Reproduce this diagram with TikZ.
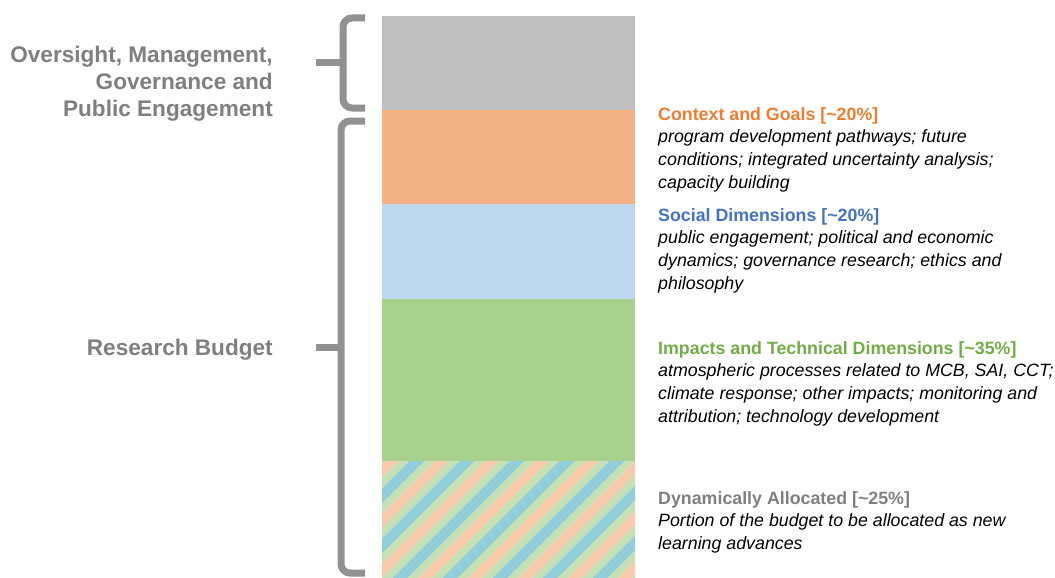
\documentclass[tikz,border=0pt]{standalone}
\usepackage{fontspec}
\setmainfont{Liberation Sans}
\definecolor{cgray}{HTML}{BFBFBF}
\definecolor{corange}{HTML}{F4B183}
\definecolor{cblue}{HTML}{BDD7EE}
\definecolor{cgreen}{HTML}{A9D18E}
\definecolor{horange}{HTML}{F8CBAD}
\definecolor{hgreen}{HTML}{C5E0B4}
\definecolor{hblue}{HTML}{92CDDC}
\definecolor{torange}{HTML}{ED7D31}
\definecolor{tblue}{HTML}{4472C4}
\definecolor{tgreen}{HTML}{70AD47}
\definecolor{tgray}{HTML}{7F7F7F}
\definecolor{bracegray}{HTML}{919191}
\begin{document}
\begin{tikzpicture}[x=1pt,y=-1pt,
  seg/.style={fill=#1,draw=none},
  brace/.style={draw=bracegray,line width=7pt,rounded corners=9pt},
  tip/.style={draw=bracegray,line width=7pt},
  leftlab/.style={anchor=east,align=right,inner sep=0pt,text=tgray,font=\fontsize{22.6}{27}\selectfont\bfseries},
  desc/.style={anchor=north west,align=left,inner sep=0pt,font=\fontsize{17.8}{22.7}\selectfont},
]
\useasboundingbox (0,0) rectangle (1055,578);
% bars
\fill[seg=cgray] (382,16) rectangle (635,110);
\fill[seg=corange] (382,110) rectangle (635,204);
\fill[seg=cblue] (382,204) rectangle (635,299);
\fill[seg=cgreen] (382,299) rectangle (635,461);
\begin{scope}
  \clip (382,461) rectangle (635,578);
  \foreach \i in {0,...,10} {
    \pgfmathsetmacro{\xa}{146+\i*50}
    \fill[horange] (\xa,600) -- ++(14,0) -- ++(200,-200) -- ++(-14,0) -- cycle;
    \fill[hgreen] (\xa+14,600) -- ++(10.5,0) -- ++(200,-200) -- ++(-10.5,0) -- cycle;
    \fill[hblue] (\xa+24.5,600) -- ++(15,0) -- ++(200,-200) -- ++(-15,0) -- cycle;
    \fill[hgreen] (\xa+39.5,600) -- ++(10.5,0) -- ++(200,-200) -- ++(-10.5,0) -- cycle;
  }
\end{scope}
% braces
\coordinate (b1t) at (365,18);
\coordinate (b1b) at (365,108);
\coordinate (b1m) at (343,63);
\coordinate (b1p) at (316,63);
\draw[brace] (b1t) -- (343,18) -- (343,108) -- (b1b);
\draw[tip] (b1p) -- (b1m);
\coordinate (b2t) at (365,121);
\coordinate (b2b) at (365,573);
\coordinate (b2m) at (341,347);
\coordinate (b2p) at (316,347);
\draw[brace] (b2t) -- (341,121) -- (341,573) -- (b2b);
\draw[tip] (b2p) -- (b2m);
% left labels
\node[leftlab] (oversight) at (273,84) {Oversight, Management,\\Governance and\\Public Engagement};
\node[leftlab] (research) at (273,350) {Research Budget};
% descriptions
\node[desc] (context) at (658,107) {\textcolor{torange}{\bfseries Context and Goals [\textasciitilde 20\%]}\\\itshape program development pathways; future\\\itshape conditions; integrated uncertainty analysis;\\\itshape capacity building};
\node[desc] (social) at (658,208) {\textcolor{tblue}{\bfseries Social Dimensions [\textasciitilde 20\%]}\\\itshape public engagement; political and economic\\\itshape dynamics; governance research; ethics and\\\itshape philosophy};
\node[desc] (impacts) at (658,341) {\textcolor{tgreen}{\bfseries Impacts and Technical Dimensions [\textasciitilde 35\%]}\\\itshape atmospheric processes related to MCB, SAI, CCT;\\\itshape climate response; other impacts; monitoring and\\\itshape attribution; technology development};
\node[desc] (dynamic) at (658,491) {\textcolor{tgray}{\bfseries Dynamically Allocated [\textasciitilde 25\%]}\\\itshape Portion of the budget to be allocated as new\\\itshape learning advances};
\end{tikzpicture}
\end{document}
